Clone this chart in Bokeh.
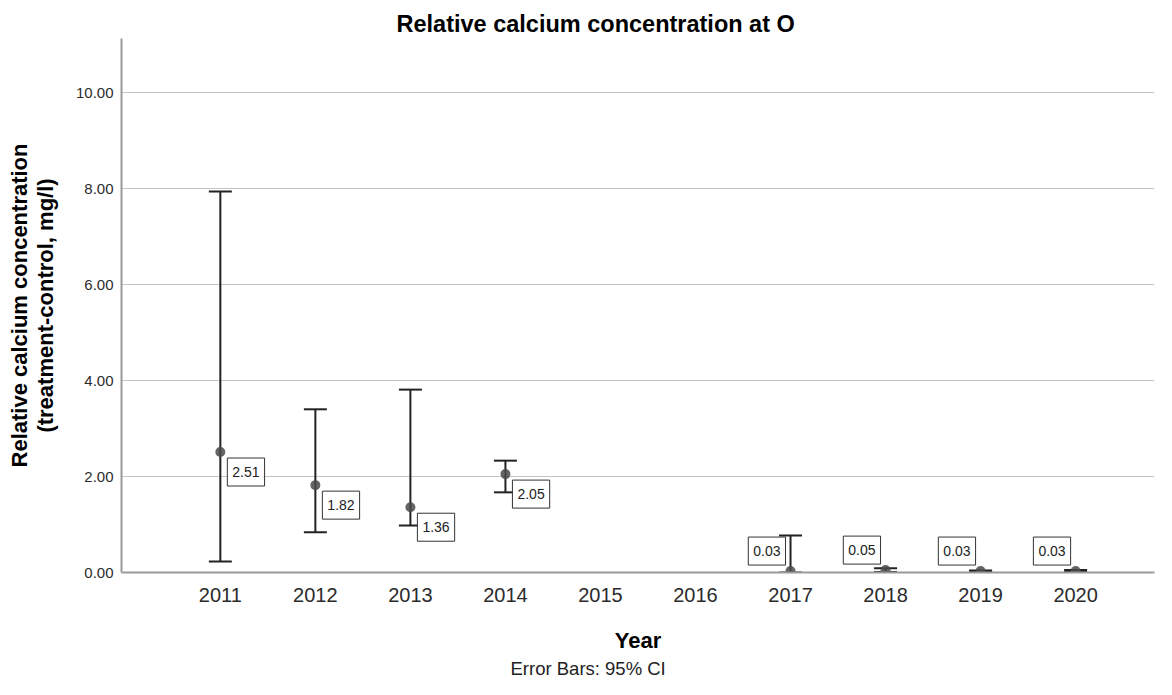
from bokeh.plotting import figure
from bokeh.models import (Range1d, FixedTicker, NumeralTickFormatter, Label, Title)
from bokeh.embed import file_html
from bokeh.resources import INLINE

# ---- data ----
tick_years = [2011, 2012, 2013, 2014, 2015, 2016, 2017, 2018, 2019, 2020]
years_early = [2011, 2012, 2013, 2014]
means_early = [2.51, 1.82, 1.36, 2.05]
lower_early = [0.23, 0.84, 0.98, 1.67]
upper_early = [7.94, 3.40, 3.81, 2.33]
years_late = [2017, 2018, 2019, 2020]
means_late = [0.03, 0.05, 0.03, 0.03]
lower_late = [0.00, 0.01, 0.02, 0.01]
upper_late = [0.77, 0.09, 0.04, 0.05]
y_ticks = [0, 2, 4, 6, 8, 10]

years = years_early + years_late
means = means_early + means_late
lower = lower_early + lower_late
upper = upper_early + upper_late

FONT = "Liberation Sans"

p = figure(width=1156, height=679,
           x_range=Range1d(2009.96, 2020.83), y_range=Range1d(0, 11.125),
           output_backend="svg", toolbar_location=None,
           min_border_left=121, min_border_right=2, min_border_top=38, min_border_bottom=107)
p.outline_line_color = None
p.background_fill_color = "white"
p.border_fill_color = "white"

# title
p.title.text = "Relative calcium concentration at O"
p.title.align = "left"
p.title.offset = 275
p.title.standoff = 4
p.title.text_font = FONT
p.title.text_font_style = "bold"
p.title.text_font_size = "23.5px"
p.title.text_color = "black"

# axes
p.xaxis.ticker = FixedTicker(ticks=tick_years)
p.xaxis.major_label_overrides = {y: str(y) for y in tick_years}
p.yaxis.ticker = FixedTicker(ticks=y_ticks)
p.yaxis.formatter = NumeralTickFormatter(format="0.00")
for ax in (p.xaxis[0], p.yaxis[0]):
    ax.axis_line_color = "#9a9a9a"
    ax.axis_line_width = 2
    ax.major_tick_line_color = None
    ax.minor_tick_line_color = None
    ax.major_label_text_font = FONT
    ax.major_label_text_color = "#2b2b2b"
    ax.axis_label_text_font = FONT
    ax.axis_label_text_font_style = "bold"
    ax.axis_label_text_color = "black"
    ax.axis_label_text_font_size = "22px"
p.xaxis.major_label_text_font_size = "20px"
p.xaxis.major_label_standoff = 9
p.xaxis.axis_label = "Year"
p.xaxis.axis_label_standoff = 23
p.yaxis.major_label_text_font_size = "15px"
p.yaxis.major_label_standoff = 2
p.yaxis.axis_label = "Relative calcium concentration\n(treatment-control, mg/l)"
p.yaxis.axis_label_standoff = 15
p.yaxis.axis_label_text_line_height = 1.05

p.xgrid.grid_line_color = None
p.ygrid.grid_line_color = "#c4c4c4"
p.ygrid.grid_line_width = 1

# footnote
foot = Title(text="Error Bars: 95% CI", align="left", offset=389, standoff=0,
             text_font=FONT, text_font_style="normal", text_font_size="18.5px",
             text_color="#222222")
p.add_layout(foot, "below")

# error bars
p.segment(x0=years, y0=lower, x1=years, y1=upper, line_color="#222222", line_width=2)
p.scatter(x=years, y=upper, marker="dash", size=23, line_color="#222222", line_width=2)
p.scatter(x=years, y=lower, marker="dash", size=23, line_color="#222222", line_width=2)
# means
p.scatter(x=years, y=means, size=10, fill_color="#4a4a4a", line_color=None, fill_alpha=0.85)

# value labels
common = dict(text_font_size="14px", text_color="#222222", text_font=FONT,
              background_fill_color="white", border_line_color="#333333", border_line_width=1,
              padding=dict(left=5, right=5, top=9, bottom=9))
for xv, yv in zip(years_early, means_early):
    p.add_layout(Label(x=xv, y=yv, text="%.2f" % yv, text_align="left", text_baseline="top",
                       x_offset=7, y_offset=-6, **common))
for xv, yv in zip(years_late, means_late):
    p.add_layout(Label(x=xv, y=yv, text="%.2f" % yv, text_align="right", text_baseline="bottom",
                       x_offset=-5, y_offset=6, **common))

open("out.html", "w").write(file_html(p, INLINE))
